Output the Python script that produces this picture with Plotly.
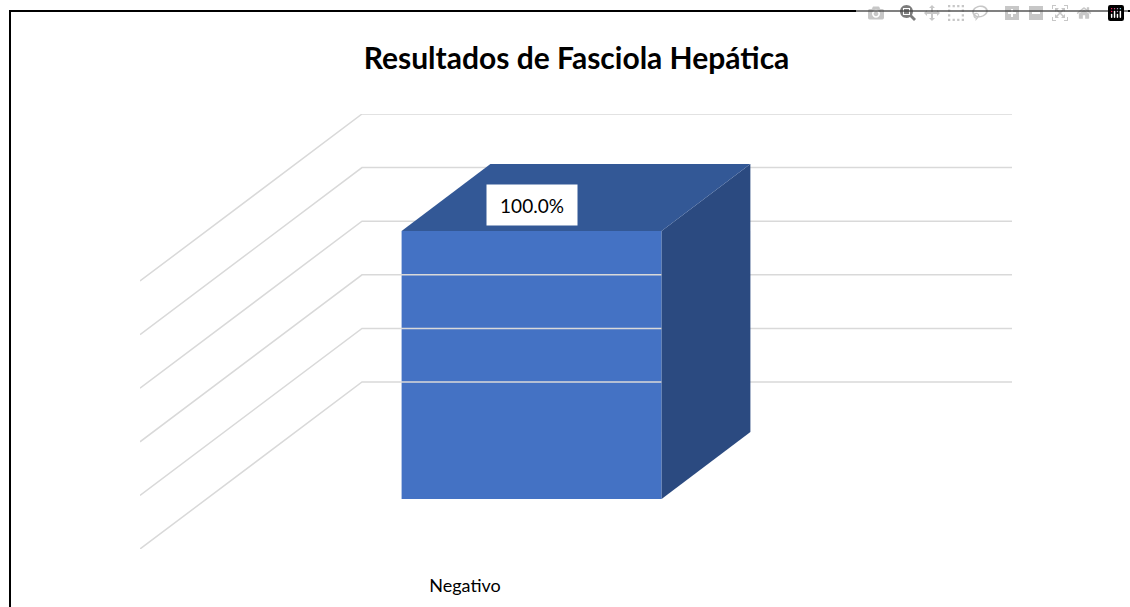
import plotly.graph_objects as go

# values
categories = ["Negativo"]
percent_values = [100.0]
tick_values = [0, 20, 40, 60, 80, 100]

title_text = "Resultados de Fasciola Hepática"
caption_text = "Gráfico N° 5"

# fake 3D: depth goes 0..1 from the front of the floor to the back wall
DEPTH_X = 222 / 650  # in category widths
DEPTH_Y = 167 / 2.68  # in percent units
BAR_WIDTH = 0.4
BAR_DEPTH = (0.3, 0.7)

FRONT = "#4472C4"
TOP = "#335896"
SIDE = "#2B4A80"
GRID = "#D9D9D9"

FONT = "Lato"

W, H = 1130, 607
L, R, T, B = 140, 118, 114, 58


def project(x, y, depth):
    return x + depth * DEPTH_X, y + depth * DEPTH_Y


fig = go.Figure()

# walls: diagonal lines on the left side and flat ones on the back
for tick in tick_values:
    xs, ys = zip(project(-0.5, tick, 0), project(-0.5, tick, 1), project(0.5, tick, 1))
    fig.add_scatter(x=xs, y=ys, mode="lines", line=dict(color=GRID, width=1.5), hoverinfo="skip")

for i, (cat, val) in enumerate(zip(categories, percent_values)):
    x0, x1 = i - BAR_WIDTH / 2, i + BAR_WIDTH / 2
    d0, d1 = BAR_DEPTH

    # side face
    side = [project(x1, 0, d0), project(x1, 0, d1), project(x1, val, d1), project(x1, val, d0)]
    fig.add_scatter(
        x=[p[0] for p in side], y=[p[1] for p in side],
        mode="lines", fill="toself", fillcolor=SIDE, line=dict(width=0), hoverinfo="skip",
    )
    # top face
    top = [project(x0, val, d0), project(x0, val, d1), project(x1, val, d1), project(x1, val, d0)]
    fig.add_scatter(
        x=[p[0] for p in top], y=[p[1] for p in top],
        mode="lines", fill="toself", fillcolor=TOP, line=dict(width=0), hoverinfo="skip",
    )
    # front face
    fx, base = project(i, 0, d0)
    fig.add_bar(x=[fx], y=[val], base=[base], width=[BAR_WIDTH], marker=dict(color=FRONT, line_width=0), name=cat)

    fig.add_annotation(
        x=fx, y=base + val, yshift=26, text=f"{val:.1f}%", showarrow=False,
        bgcolor="white", width=88, height=38, font=dict(family=FONT, size=19, color="black"),
    )

fig.update_layout(
    width=W, height=H,
    margin=dict(l=L, r=R, t=T, b=B),
    paper_bgcolor="white",
    plot_bgcolor="white",
    showlegend=False,
    title=dict(
        text=f"<b>{title_text}</b>", x=(576.5) / W, xanchor="center", y=1 - 58 / H, yanchor="middle",
        font=dict(family=FONT, size=30, color="black"),
    ),
    xaxis=dict(
        range=[-0.5, 0.5 + DEPTH_X],
        tickvals=[0], ticktext=categories,
        ticklabelstandoff=24,
        showgrid=False, zeroline=False, showline=False, ticks="",
        tickfont=dict(family=FONT, size=18, color="black"),
    ),
    yaxis=dict(range=[0, 100 + DEPTH_Y], visible=False),
)

# page frame: only the top and left edges are in view
fig.add_shape(
    type="rect", xref="paper", yref="paper",
    x0=(10 - L) / (W - L - R), x1=(W + 20 - L) / (W - L - R),
    y0=-0.3, y1=(H - B - 11) / (H - T - B),
    line=dict(color="black", width=2), layer="below",
)
# caption above the frame, cut by the page top
fig.add_annotation(
    xref="paper", yref="paper", x=(565 - L) / (W - L - R), y=(H - B + 0) / (H - T - B),
    yanchor="bottom", yshift=-5, text=f"<b>{caption_text}</b>", showarrow=False,
    font=dict(family="Liberation Serif", size=24, color="black"),
)

fig.write_html("out.html", post_script="document.body.style.margin='0';")
